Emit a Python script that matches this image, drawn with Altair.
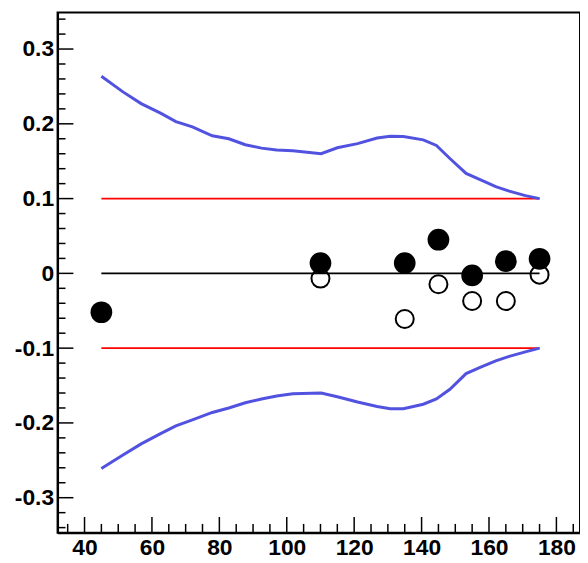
import altair as alt
import pandas as pd

# ---- data ----
curve_x = [45, 51.4, 56.8, 62.7, 67.1, 72, 77.9, 82.8, 87.7, 92.5, 97, 101.8, 110.2,
           115, 121, 126.8, 130.7, 134.6, 140.5, 144.4, 148.4, 153.2, 157.2, 162, 166, 170.8, 175]
upper_y = [0.2635, 0.2427, 0.227, 0.214, 0.203, 0.196, 0.184, 0.180, 0.172, 0.1675, 0.165,
           0.164, 0.160, 0.168, 0.1735, 0.181, 0.1834, 0.183, 0.1785, 0.171, 0.1536, 0.1337,
           0.1256, 0.116, 0.110, 0.104, 0.100]
lower_y = [-0.261, -0.243, -0.228, -0.214, -0.204, -0.196, -0.186, -0.180, -0.173, -0.168,
           -0.164, -0.161, -0.160, -0.165, -0.172, -0.178, -0.181, -0.181, -0.175, -0.168,
           -0.155, -0.134, -0.126, -0.117, -0.111, -0.105, -0.100]

filled_x = [45, 110, 135, 145, 155, 165, 175]
filled_y = [-0.052, 0.0137, 0.0137, 0.045, -0.0027, 0.0163, 0.0195]
open_x = [110, 135, 145, 155, 165, 175]
open_y = [-0.007, -0.061, -0.0146, -0.037, -0.037, -0.0017]

ref_x = [45, 175]
red_levels = [0.1, -0.1]
zero_level = [0.0]

x_major = [40, 60, 80, 100, 120, 140, 160, 180]
x_minor = [35, 45, 50, 55, 65, 70, 75, 85, 90, 95, 105, 110, 115, 125, 130, 135,
           145, 150, 155, 165, 170, 175, 185]
y_major = [-0.3, -0.2, -0.1, 0.0, 0.1, 0.2, 0.3]
y_minor = [-0.34, -0.32, -0.28, -0.26, -0.24, -0.22, -0.18, -0.16, -0.14, -0.12,
           -0.08, -0.06, -0.04, -0.02, 0.02, 0.04, 0.06, 0.08, 0.12, 0.14, 0.16, 0.18,
           0.22, 0.24, 0.26, 0.28, 0.32, 0.34]

X_DOMAIN = [32, 187]
Y_DOMAIN = [-0.347, 0.349]
W, H = 527, 525
FONT = "Liberation Sans"
FS = 23

curves = pd.DataFrame({
    "x": curve_x + curve_x,
    "y": upper_y + lower_y,
    "curve": ["upper"] * len(curve_x) + ["lower"] * len(curve_x),
})
filled = pd.DataFrame({"x": filled_x, "y": filled_y})
opened = pd.DataFrame({"x": open_x, "y": open_y})
red = pd.DataFrame([{"x": ref_x[0], "x2": ref_x[1], "y": lv} for lv in red_levels])
zero = pd.DataFrame([{"x": ref_x[0], "x2": ref_x[1], "y": lv} for lv in zero_level])

lab = "datum.value == 0 ? '0' : (datum.value < 0 ? '-' + format(-datum.value, '.1f') : format(datum.value, '.1f'))"

xs = alt.Scale(domain=X_DOMAIN, nice=False, zero=False)
ys = alt.Scale(domain=Y_DOMAIN, nice=False, zero=False)

xaxis = alt.Axis(values=x_major, ticks=False, grid=False, title=None, domain=True,
                 domainColor="black", domainWidth=2, labelFont=FONT, labelFontSize=FS,
                 labelFontWeight="bold", labelColor="black", labelPadding=4,
                 labelFlush=False, labelOverlap=False, format="d")
yaxis = alt.Axis(values=y_major, ticks=False, grid=False, title=None, domain=True,
                 domainColor="black", domainWidth=2, labelFont=FONT, labelFontSize=FS,
                 labelFontWeight="bold", labelColor="black", labelPadding=4,
                 labelFlush=False, labelOverlap=False, labelExpr=lab)


def X(field):
    return alt.X(field, type="quantitative", scale=xs, axis=xaxis)


def Y(field):
    return alt.Y(field, type="quantitative", scale=ys, axis=yaxis)


tick_style = dict(color="black", strokeWidth=1.5)
ytm = alt.Chart(pd.DataFrame({"v": y_major})).mark_rule(**tick_style).encode(
    y=Y("v"), x=alt.value(0), x2=alt.value(16))
ytn = alt.Chart(pd.DataFrame({"v": y_minor})).mark_rule(**tick_style).encode(
    y=Y("v"), x=alt.value(0), x2=alt.value(8))
xtm = alt.Chart(pd.DataFrame({"v": x_major})).mark_rule(**tick_style).encode(
    x=X("v"), y=alt.value(H), y2=alt.value(H - 16))
xtn = alt.Chart(pd.DataFrame({"v": x_minor})).mark_rule(**tick_style).encode(
    x=X("v"), y=alt.value(H), y2=alt.value(H - 9))

red_layer = alt.Chart(red).mark_rule(color="#ff0000", strokeWidth=1.6).encode(
    x=X("x"), x2="x2:Q", y=Y("y"))
zero_layer = alt.Chart(zero).mark_rule(color="black", strokeWidth=1.6).encode(
    x=X("x"), x2="x2:Q", y=Y("y"))

blue_layer = alt.Chart(curves).mark_line(color="#5252e0", strokeWidth=3).encode(
    x=X("x"), y=Y("y"), detail="curve:N")

open_layer = alt.Chart(opened).mark_point(shape="circle", filled=False, color="black",
                                          strokeWidth=2, size=330, opacity=1).encode(
    x=X("x"), y=Y("y"))
filled_layer = alt.Chart(filled).mark_point(shape="circle", filled=True, color="black",
                                            size=480, opacity=1).encode(
    x=X("x"), y=Y("y"))

chart = alt.layer(
    ytm, ytn, xtm, xtn, red_layer, zero_layer, blue_layer, open_layer, filled_layer
).properties(
    width=W, height=H,
    autosize=alt.AutoSizeParams(type="none"),
    padding={"left": 50, "top": 2, "right": 0, "bottom": 30},
).configure(
    background="white",
    view=alt.ViewConfig(stroke="black", strokeWidth=2, fill="white"),
)

chart.save("out.html", embed_options={"renderer": "svg", "actions": False})
